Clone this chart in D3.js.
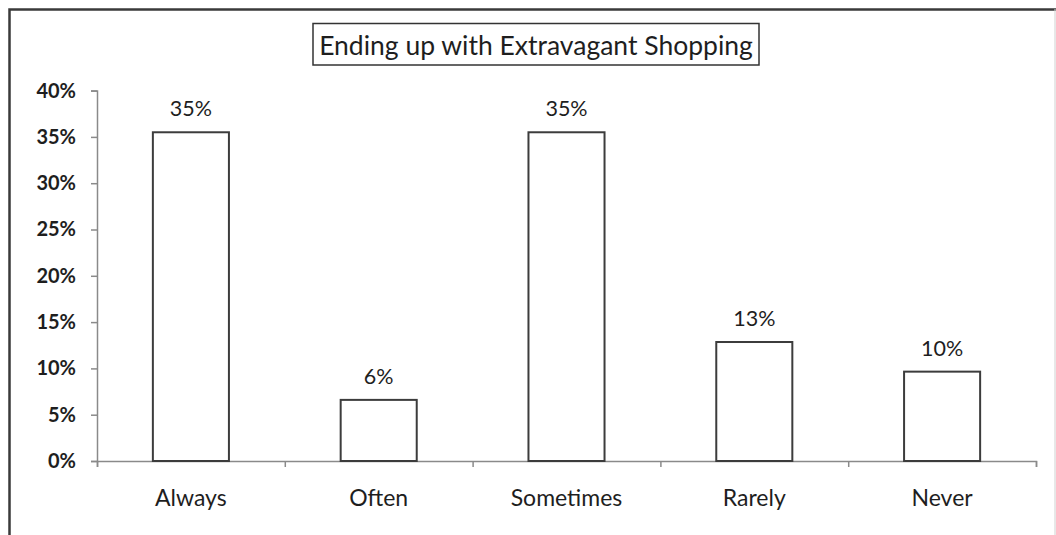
<!DOCTYPE html>
<html>
<head>
<meta charset="utf-8">
<script src="https://cdn.jsdelivr.net/npm/d3@7"></script>
<style>
  html, body { margin: 0; padding: 0; background: #fff; }
  svg { display: block; }
  text { font-family: Lato, "Noto Sans", sans-serif; fill: #1e1e1e; }
</style>
</head>
<body>
<svg id="chart" width="1056" height="535"></svg>
<script>
const title = "Ending up with Extravagant Shopping";
const categories = ["Always", "Often", "Sometimes", "Rarely", "Never"];
const values = [0.355, 0.066, 0.355, 0.1285, 0.0965];
const valueLabels = ["35%", "6%", "35%", "13%", "10%"];
const yTicks = [0, 0.05, 0.10, 0.15, 0.20, 0.25, 0.30, 0.35, 0.40];

const svg = d3.select("#chart");
const W = 1056, H = 535;
const plot = { left: 97, right: 1036, top: 90.6, bottom: 461 };

// outer frame (cut off at bottom)
svg.append("path")
  .attr("d", `M9.5,${H} V9.5 H${W}`)
  .attr("fill", "none").attr("stroke", "#3a3a3a").attr("stroke-width", 2.5);
svg.append("line")
  .attr("x1", W - 1).attr("x2", W - 1).attr("y1", 9).attr("y2", H)
  .attr("stroke", "#d0d0d0").attr("stroke-width", 1);

const x = d3.scaleBand().domain(categories).range([plot.left, plot.right]).padding(0);
const xEdges = d3.scaleLinear().domain([0, categories.length]).range([plot.left, plot.right]);
const y = d3.scaleLinear().domain([0, 0.4]).range([plot.bottom, plot.top]);

// y axis
const yAxis = svg.append("g")
  .attr("transform", `translate(${plot.left},0)`)
  .call(d3.axisLeft(y).tickValues(yTicks).tickFormat(d3.format(".0%")).tickSize(6).tickPadding(15));
yAxis.select(".domain").attr("stroke", "#8a8a8a").attr("stroke-width", 1.5);
yAxis.selectAll(".tick line").attr("stroke", "#8a8a8a").attr("stroke-width", 1.5);
yAxis.selectAll(".tick text")
  .attr("fill", "#1e1e1e")
  .style("font-family", "Lato, 'Noto Sans', sans-serif")
  .style("font-size", "20px").style("font-weight", "bold");

// x axis (ticks at category boundaries)
const xAxis = svg.append("g")
  .attr("transform", `translate(0,${plot.bottom})`)
  .call(d3.axisBottom(xEdges).ticks(categories.length).tickFormat("").tickSizeInner(6).tickSizeOuter(6));
xAxis.select(".domain").attr("stroke", "#8a8a8a").attr("stroke-width", 1.5);
xAxis.selectAll(".tick line").attr("stroke", "#8a8a8a").attr("stroke-width", 1.5);

// bars
const barFrac = 0.405;
const bw = x.bandwidth() * barFrac;
svg.append("g").selectAll("rect")
  .data(values)
  .join("rect")
  .attr("x", (d, i) => x(categories[i]) + (x.bandwidth() - bw) / 2)
  .attr("y", d => y(d))
  .attr("width", bw)
  .attr("height", d => y(0) - y(d))
  .attr("fill", "#fff")
  .attr("stroke", "#3c3c3c")
  .attr("stroke-width", 2);

// value labels
svg.append("g").selectAll("text")
  .data(values)
  .join("text")
  .attr("x", (d, i) => x(categories[i]) + x.bandwidth() / 2)
  .attr("y", d => y(d) - 16)
  .attr("text-anchor", "middle")
  .style("font-size", "21.5px")
  .text((d, i) => valueLabels[i]);

// category labels
svg.append("g").selectAll("text")
  .data(categories)
  .join("text")
  .attr("x", d => x(d) + x.bandwidth() / 2)
  .attr("y", 506)
  .attr("text-anchor", "middle")
  .style("font-size", "23px")
  .text(d => d);

// title with box
const tg = svg.append("g");
tg.append("rect")
  .attr("x", 313).attr("y", 23.5).attr("width", 446).attr("height", 41.5)
  .attr("fill", "#fff").attr("stroke", "#333").attr("stroke-width", 1.5);
tg.append("text")
  .attr("x", 536).attr("y", 55)
  .attr("text-anchor", "middle")
  .style("font-size", "26.5px")
  .text(title);
</script>
</body>
</html>
